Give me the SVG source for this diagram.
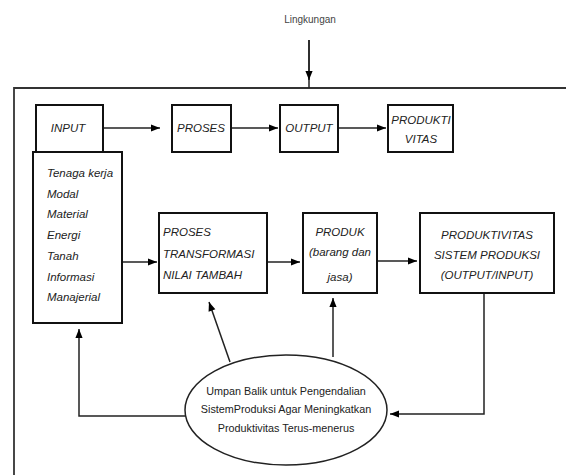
<svg xmlns="http://www.w3.org/2000/svg" width="566" height="475" viewBox="0 0 566 475">
<defs>
<marker id="ah" viewBox="0 0 10 10" refX="10" refY="5" markerWidth="10" markerHeight="9" markerUnits="userSpaceOnUse" orient="auto">
<path d="M0,1 L10,5 L0,9 Z" fill="#000"/>
</marker>
</defs>
<style>
.box{fill:#fff;stroke:#111;stroke-width:2}
.t{font-family:"Liberation Sans",Arial,sans-serif;font-style:italic;font-size:11.5px;fill:#222}
.tc{text-anchor:middle}
.e{font-family:"Liberation Sans",Arial,sans-serif;font-size:10.8px;fill:#222;text-anchor:middle}
.c{fill:none;stroke:#222;stroke-width:1.5}
</style>
<rect width="566" height="475" fill="#fff"/>
<text x="310" y="23" font-family="Liberation Sans, Arial, sans-serif" font-size="10" fill="#444" text-anchor="middle">Lingkungan</text>
<path d="M14,475 V88 H566" fill="none" stroke="#333" stroke-width="1.8"/>
<g id="connectors">
<line class="c" x1="309" y1="40" x2="309" y2="88"/>
<line class="c" x1="309" y1="40" x2="309" y2="80" marker-end="url(#ah)"/>
<line class="c" x1="103" y1="128" x2="160" y2="128" marker-end="url(#ah)"/>
<line class="c" x1="231" y1="128" x2="278" y2="128" marker-end="url(#ah)"/>
<line class="c" x1="338" y1="128" x2="386" y2="128" marker-end="url(#ah)"/>
<line class="c" x1="122" y1="262" x2="157" y2="262" marker-end="url(#ah)"/>
<line class="c" x1="267" y1="262" x2="300" y2="262" marker-end="url(#ah)"/>
<line class="c" x1="377" y1="261" x2="417" y2="261" marker-end="url(#ah)"/>
<polyline class="c" points="484,293 484,414 390,414" marker-end="url(#ah)"/>
<line class="c" x1="230" y1="362" x2="209" y2="302" marker-end="url(#ah)"/>
<line class="c" x1="333" y1="357" x2="333" y2="298" marker-end="url(#ah)"/>
<polyline class="c" points="186,416 79,416 79,329" marker-end="url(#ah)"/>
</g>
<g id="input">
<rect class="box" x="36" y="105" width="67" height="47"/>
<text class="t tc" x="68" y="132">INPUT</text>
</g>
<g id="proses">
<rect class="box" x="172" y="105" width="59" height="47"/>
<text class="t tc" x="201" y="132">PROSES</text>
</g>
<g id="output">
<rect class="box" x="280" y="105" width="58" height="47"/>
<text class="t tc" x="309" y="132">OUTPUT</text>
</g>
<g id="produktivitas">
<rect class="box" x="388" y="105" width="65" height="47"/>
<text class="t tc" x="421" y="124">PRODUKTI</text>
<text class="t tc" x="421" y="143">VITAS</text>
</g>
<g id="sumber">
<rect class="box" x="33" y="152" width="89" height="171"/>
<text class="t" x="47" y="177">Tenaga kerja</text>
<text class="t" x="47" y="198">Modal</text>
<text class="t" x="47" y="218">Material</text>
<text class="t" x="47" y="239">Energi</text>
<text class="t" x="47" y="260">Tanah</text>
<text class="t" x="47" y="281">Informasi</text>
<text class="t" x="47" y="301">Manajerial</text>
</g>
<g id="transformasi">
<rect class="box" x="159" y="213" width="108" height="80"/>
<text class="t" x="163" y="236">PROSES</text>
<text class="t" x="163" y="258">TRANSFORMASI</text>
<text class="t" x="163" y="279">NILAI TAMBAH</text>
</g>
<g id="produk">
<rect class="box" x="303" y="213" width="74" height="80"/>
<text class="t tc" x="340" y="236">PRODUK</text>
<text class="t tc" x="340" y="256">(barang dan</text>
<text class="t tc" x="340" y="281">jasa)</text>
</g>
<g id="sistem">
<rect class="box" x="420" y="213" width="134" height="80" stroke-width="2.5"/>
<text class="t tc" x="487" y="239">PRODUKTIVITAS</text>
<text class="t tc" x="487" y="259">SISTEM PRODUKSI</text>
<text class="t tc" x="487" y="279">(OUTPUT/INPUT)</text>
</g>
<g id="umpan-balik">
<ellipse cx="286" cy="410" rx="101" ry="55" fill="#fff" stroke="#222" stroke-width="1.5"/>
<text class="e" x="286" y="395">Umpan Balik untuk Pengendalian</text>
<text class="e" x="286" y="413">SistemProduksi Agar Meningkatkan</text>
<text class="e" x="286" y="432">Produktivitas Terus-menerus</text>
</g>
</svg>
